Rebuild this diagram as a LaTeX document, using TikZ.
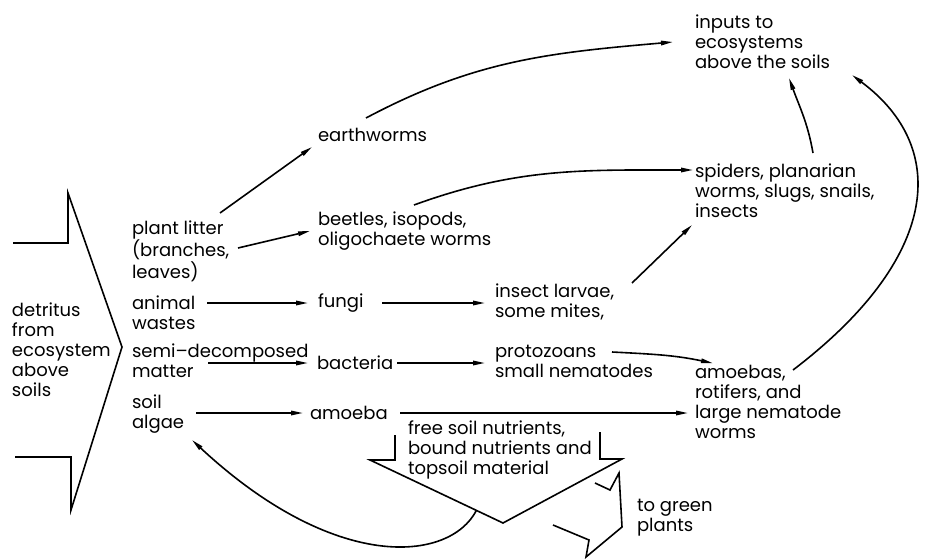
\documentclass[tikz,border=0pt]{standalone}
\usepackage{fontspec}
\setmainfont{Poppins}
\usetikzlibrary{arrows.meta,positioning,calc}

\begin{document}
\begin{tikzpicture}[x=1pt,y=1pt,>={Triangle[length=12pt,width=4.5pt]},
txt/.style={anchor=west,align=left,inner sep=0pt,outer sep=0pt,font=\fontsize{18}{20}\selectfont},
flow/.style={->,line width=1.6pt},
blockarrow/.style={line width=1.6pt,line join=miter}]
\useasboundingbox (0,0) rectangle (928,558);
% text nodes
\node[txt] (detritus) at (12,208) {detritus\\from\\ecosystem\\above\\soils};
\node[txt] (plant) at (132,307) {plant litter\\(branches,\\leaves)};
\node[txt] (animal) at (132,245) {animal\\wastes};
\node[txt] (semi) at (132,197) {semi--decomposed\\matter};
\node[txt] (algae) at (132,144) {soil\\algae};
\node[txt] (earth) at (318,423) {earthworms};
\node[txt] (beetle) at (318,327) {beetles, isopods,\\oligochaete worms};
\node[txt] (fungi) at (318,255) {fungi};
\node[txt] (bacteria) at (317,195) {bacteria};
\node[txt] (amoeba) at (310,145) {amoeba};
\node[txt] (larvae) at (495,256) {insect larvae,\\some mites,};
\node[txt] (proto) at (495,197) {protozoans\\small nematodes};
\node[txt] (inputs) at (695,516) {inputs to\\ecosystems\\above the soils};
\node[txt] (spider) at (695,367) {spiders, planarian\\worms, slugs, snails,\\insects};
\node[txt] (amoebas) at (695,156) {amoebas,\\rotifers, and\\large nematode\\worms};
\node[txt] (nutr) at (408,108) {free soil nutrients,\\bound nutrients and\\topsoil material};
\node[txt] (green) at (637,40) {to green\\plants};
% block arrows
\draw[blockarrow] (13,315) -- (68,315) -- (68,365) -- (122,211) -- (71,48) -- (71,101) -- (15,101);
\coordinate (nl) at (370,98);
\coordinate (ntip) at (503,35);
\draw[blockarrow] (395,123) -- (395,98) -- (nl) -- (ntip) -- (622,99) -- (600,99) -- (600,126);
\draw[blockarrow] (595,75) -- (610,68) -- (619,85) -- (622,31) -- (586,1) -- (589,18) -- (553,33);
% connectors
\draw[flow] ([shift={(88pt,38pt)}]plant.west) -- ([shift={(-6pt,-12pt)}]earth.west);
\draw[flow] ([shift={(106pt,3pt)}]plant.west) -- ([xshift=-8pt]beetle.west);
\draw[flow] ([xshift=75pt]animal.west |- fungi.west) -- ([xshift=-10pt]fungi.west);
\draw[flow] ([xshift=64pt]fungi.west) -- ([xshift=-10pt]larvae.west |- fungi.west);
\draw[flow] ([xshift=76pt]semi.west |- bacteria.west) -- ([xshift=-9pt]bacteria.west);
\draw[flow] ([xshift=80pt]bacteria.west) -- ([xshift=-10pt]proto.west |- bacteria.west);
\draw[flow] ([xshift=64pt]algae.west |- amoeba.west) -- ([xshift=-7pt]amoeba.west);
\draw[flow] ([xshift=90pt]amoeba.west) -- ([xshift=-7pt]amoeba.west -| amoebas.west);
\draw[flow] ([shift={(117pt,9pt)}]proto.west) to[out=-3,in=168] ([shift={(18pt,2pt)}]amoebas.north west);
\draw[flow] ([shift={(48pt,17pt)}]earth.west) to[out=28,in=185] ([xshift=-22pt]inputs.west);
\draw[flow] ([shift={(96pt,26pt)}]beetle.west) to[out=20,in=180] ([shift={(-2pt,21pt)}]spider.west);
\draw[flow] ([shift={(137pt,19pt)}]larvae.west) -- ([shift={(-3pt,-34pt)}]spider.west);
\draw[flow] ([shift={(118pt,38pt)}]spider.west) to[out=100,in=-70] ([shift={(94pt,-36pt)}]inputs.west);
\draw[flow] ([shift={(98pt,32pt)}]amoebas.west) .. controls +(147,112) and +(98,-73) .. ([shift={(157pt,-33pt)}]inputs.west);
\draw[flow] ($(nl)!0.8!(ntip)$) .. controls +(-27,-52) and +(143,-133) .. ([shift={(60pt,-26pt)}]algae.west);
\end{tikzpicture}
\end{document}
